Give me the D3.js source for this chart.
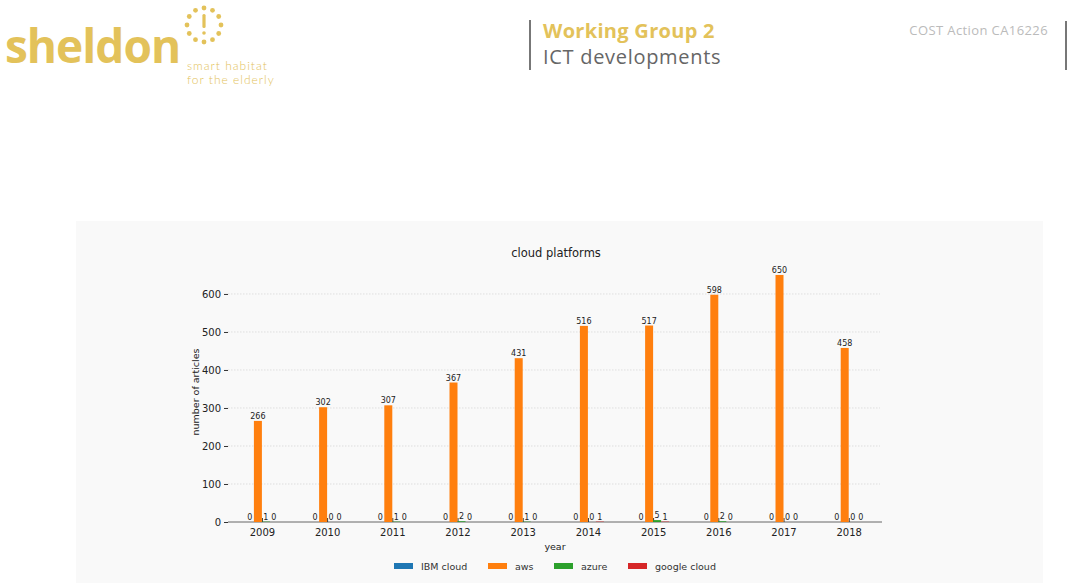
<!DOCTYPE html>
<html>
<head>
<meta charset="utf-8">
<script src="https://cdn.jsdelivr.net/npm/d3@7"></script>
<style>
  body { margin: 0; background: #fff; }
  svg { display: block; }
</style>
</head>
<body>
<svg id="chart"></svg>
<script>
const years = [2009, 2010, 2011, 2012, 2013, 2014, 2015, 2016, 2017, 2018];
const seriesNames = ["IBM cloud", "aws", "azure", "google cloud"];
const ibm = [0, 0, 0, 0, 0, 0, 0, 0, 0, 0];
const aws = [266, 302, 307, 367, 431, 516, 517, 598, 650, 458];
const azure = [1, 0, 1, 2, 1, 0, 5, 2, 0, 0];
const google = [0, 0, 0, 0, 0, 1, 1, 0, 0, 0];
const yTicks = [0, 100, 200, 300, 400, 500, 600];

const width = 1073, height = 583;
const gold = "#e3c25a";

const svg = d3.select("#chart")
    .attr("width", width)
    .attr("height", height);

// ---- header ----
svg.append("text")
    .attr("x", 5).attr("y", 63)
    .style("font-family", "Open Sans")
    .style("font-weight", 700)
    .style("font-size", "46px")
    .style("letter-spacing", "-1px")
    .attr("fill", gold)
    .text("sheldon");

// dotted circle logo
const cx = 204, cy = 25, r = 17;
for (let i = 0; i < 12; i++) {
    const a = i / 12 * 2 * Math.PI;
    svg.append("circle")
        .attr("cx", cx + r * Math.cos(a))
        .attr("cy", cy + r * Math.sin(a))
        .attr("r", 2.4)
        .attr("fill", gold);
}
svg.append("rect").attr("x", cx - 1.6).attr("y", cy - 11).attr("width", 3.2).attr("height", 14).attr("rx", 1.5).attr("fill", gold);
svg.append("circle").attr("cx", cx).attr("cy", cy + 8).attr("r", 1.8).attr("fill", gold);

svg.append("text")
    .attr("x", 187).attr("y", 70)
    .style("font-family", "Lato").style("font-weight", 300).style("font-size", "12px")
    .style("letter-spacing", "1px")
    .attr("fill", gold).text("smart habitat");
svg.append("text")
    .attr("x", 187).attr("y", 84)
    .style("font-family", "Lato").style("font-weight", 300).style("font-size", "12px")
    .style("letter-spacing", "1px")
    .attr("fill", gold).text("for the elderly");

svg.append("line").attr("x1", 530).attr("x2", 530).attr("y1", 20).attr("y2", 70)
    .attr("stroke", "#777").attr("stroke-width", 2);
svg.append("text")
    .attr("x", 543).attr("y", 38)
    .style("font-family", "Open Sans").style("font-weight", 700).style("font-size", "20px")
    .style("letter-spacing", "0.3px")
    .attr("fill", gold).text("Working Group 2");
svg.append("text")
    .attr("x", 543).attr("y", 64)
    .style("font-family", "Open Sans").style("font-size", "20px")
    .style("letter-spacing", "0.7px")
    .attr("fill", "#666").text("ICT developments");
svg.append("text")
    .attr("x", 1048).attr("y", 35)
    .attr("text-anchor", "end")
    .style("font-family", "Open Sans").style("font-size", "13px")
    .style("letter-spacing", "0.4px")
    .attr("fill", "#bbb").text("COST Action CA16226");
svg.append("line").attr("x1", 1066).attr("x2", 1066).attr("y1", 21).attr("y2", 70)
    .attr("stroke", "#777").attr("stroke-width", 2);

// ---- chart panel ----
svg.append("rect")
    .attr("x", 76).attr("y", 221)
    .attr("width", 967).attr("height", 362)
    .attr("fill", "#f9f9f9");

const margin = ({ top: 259, right: 880, bottom: 522, left: 228 });

const x = d3.scaleLinear([2008.48, 2018.48], [margin.left, margin.right]);
const y = d3.scaleLinear([0, 692], [margin.bottom, margin.top]);
const barW = 8;
const color = d3.scaleOrdinal(seriesNames, ["#1f77b4", "#ff7f0e", "#2ca02c", "#d62728"]);

const chartFont = "DejaVu Sans";

// gridlines
svg.append("g")
    .selectAll("line")
    .data(yTicks.slice(1))
    .join("line")
    .attr("x1", margin.left).attr("x2", margin.right)
    .attr("y1", d => y(d)).attr("y2", d => y(d))
    .attr("stroke", "#d8d8d8")
    .attr("stroke-dasharray", "1.5,1.5")
    .attr("stroke-width", 0.8);

// y axis
const yAxis = svg.append("g")
    .attr("transform", `translate(${margin.left},0)`)
    .call(d3.axisLeft(y).tickValues(yTicks).tickSize(4).tickPadding(3));
yAxis.select(".domain").remove();
yAxis.selectAll(".tick line").attr("stroke", "#333");
yAxis.selectAll(".tick text")
    .style("font-family", chartFont).style("font-size", "10px").attr("fill", "#222");

// x axis
const xAxis = svg.append("g")
    .attr("transform", `translate(0,${margin.bottom})`)
    .call(d3.axisBottom(x).tickValues(years).tickFormat(d3.format("d")).tickSize(-4).tickPadding(7));
xAxis.select(".domain").attr("stroke", "#666").attr("d", `M${margin.left},0H${margin.right + 2}`);
xAxis.selectAll(".tick line").attr("stroke", "#333");
xAxis.selectAll(".tick text")
    .style("font-family", chartFont).style("font-size", "10px").attr("fill", "#222");

// bars
const table = years.map((yr, i) => ({ year: yr, values: [ibm[i], aws[i], azure[i], google[i]] }));
const rows = [];
table.forEach(d => d.values.forEach((v, k) => rows.push({ year: d.year, key: seriesNames[k], k: k, value: v })));

const offset = k => (k - 2) * barW;

svg.append("g")
    .selectAll("rect")
    .data(rows)
    .join("rect")
    .attr("x", d => x(d.year) + offset(d.k))
    .attr("y", d => y(d.value))
    .attr("width", barW)
    .attr("height", d => y(0) - y(d.value))
    .attr("fill", d => color(d.key));

svg.append("g")
    .selectAll("text")
    .data(rows)
    .join("text")
    .attr("x", d => x(d.year) + offset(d.k) + barW / 2)
    .attr("y", d => y(d.value) - 2)
    .attr("text-anchor", "middle")
    .style("font-family", chartFont)
    .style("font-size", "8px")
    .attr("fill", "#222")
    .text(d => d.value);

// titles
svg.append("text")
    .attr("x", (margin.left + margin.right) / 2 + 2)
    .attr("y", 257)
    .attr("text-anchor", "middle")
    .style("font-family", chartFont).style("font-size", "11.5px").attr("fill", "#222")
    .text("cloud platforms");

svg.append("text")
    .attr("x", 555).attr("y", 550)
    .attr("text-anchor", "middle")
    .style("font-family", chartFont).style("font-size", "9.5px").attr("fill", "#222")
    .text("year");

svg.append("text")
    .attr("transform", "rotate(-90)")
    .attr("x", -392).attr("y", 199)
    .attr("text-anchor", "middle")
    .style("font-family", chartFont).style("font-size", "9.5px").attr("fill", "#222")
    .text("number of articles");

// legend
const legendX = [394, 488, 554, 628];
const legend = svg.append("g")
    .selectAll("g")
    .data(seriesNames)
    .join("g")
    .attr("transform", (d, i) => `translate(${legendX[i]},566)`);
legend.append("rect")
    .attr("x", 0).attr("y", -3)
    .attr("width", 19).attr("height", 6)
    .attr("fill", d => color(d));
legend.append("text")
    .attr("x", 27).attr("y", 3.5)
    .style("font-family", chartFont).style("font-size", "9.5px").attr("fill", "#333")
    .text(d => d);
</script>
</body>
</html>
